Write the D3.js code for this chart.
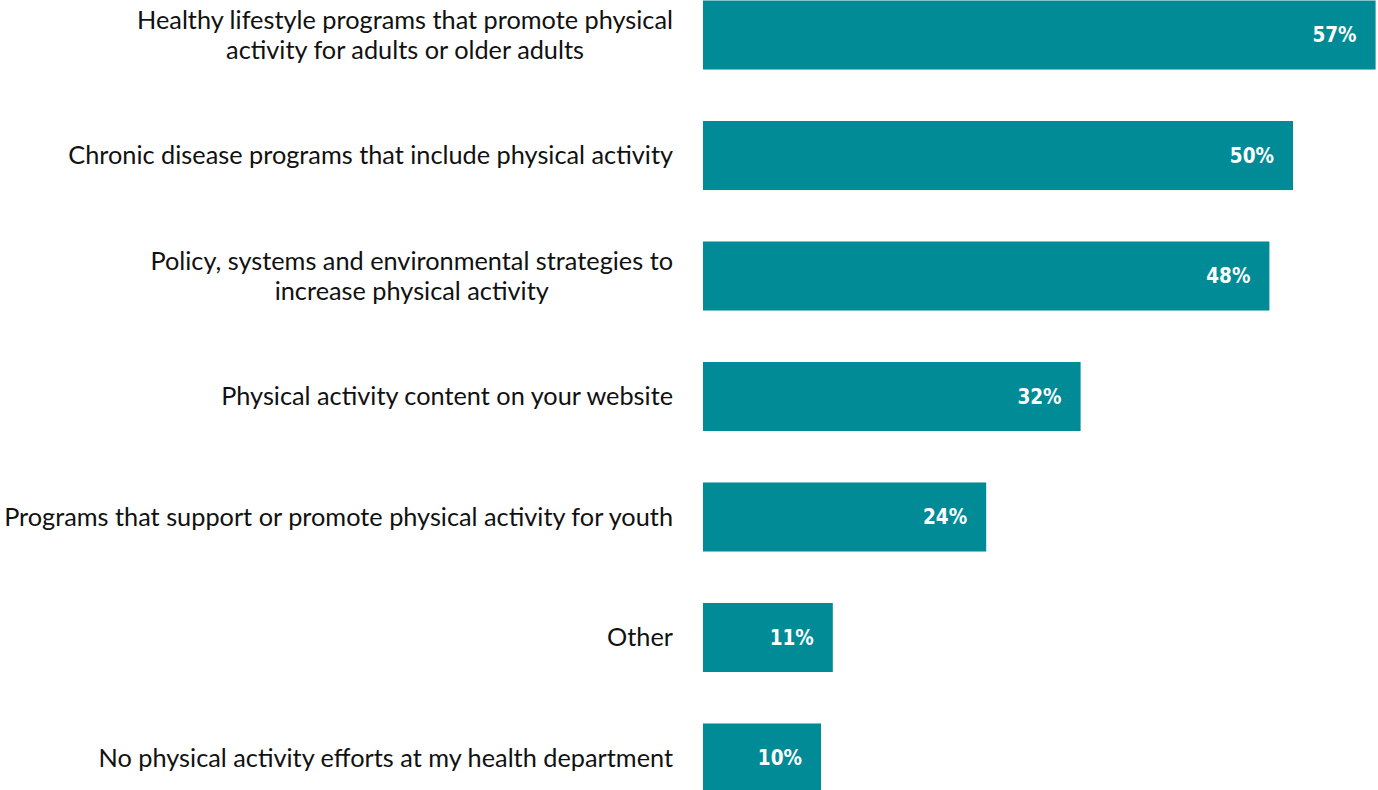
<!DOCTYPE html>
<html>
<head>
<meta charset="utf-8">
<script src="https://cdn.jsdelivr.net/npm/d3@7"></script>
<style>
  html, body { margin: 0; padding: 0; background: #fff; }
  svg { display: block; }
</style>
</head>
<body>
<svg id="chart" width="1378" height="790"></svg>
<script>
// Physical activity efforts reported by health departments
const categories = [
  ["Healthy lifestyle programs that promote physical", "activity for adults or older adults"],
  ["Chronic disease programs that include physical activity"],
  ["Policy, systems and environmental strategies to", "increase physical activity"],
  ["Physical activity content on your website"],
  ["Programs that support or promote physical activity for youth"],
  ["Other"],
  ["No physical activity efforts at my health department"]
];
const values = [57, 50, 48, 32, 24, 11, 10];
const valueLabels = ["57%", "50%", "48%", "32%", "24%", "11%", "10%"];

const W = 1378, H = 790;
const svg = d3.select("#chart");

const keys = categories.map((c, i) => i);
const y = d3.scaleBand()
  .domain(keys)
  .range([0.5, 792.5])
  .paddingInner(0.427)
  .paddingOuter(0);

const x = d3.scaleLinear().domain([0, 60]).range([703, 703 + 708]);

const barColor = "#008b96";

// Bars
svg.append("g").selectAll("rect")
  .data(values)
  .join("rect")
  .attr("x", x(0))
  .attr("y", (d, i) => y(i))
  .attr("width", d => x(d) - x(0))
  .attr("height", y.bandwidth())
  .attr("fill", barColor);

// Value labels inside bar ends
svg.append("g").selectAll("text")
  .data(values)
  .join("text")
  .attr("x", d => x(d) - 19)
  .attr("y", (d, i) => y(i) + y.bandwidth() / 2)
  .attr("dy", "0.36em")
  .attr("text-anchor", "end")
  .attr("fill", "#fff")
  .attr("font-family", "'DejaVu Sans Condensed', 'DejaVu Sans', sans-serif")
  .attr("font-stretch", "condensed")
  .attr("font-weight", "bold")
  .attr("font-size", 20.5)
  .text((d, i) => valueLabels[i]);

// Category labels: each block centred line-by-line, right edge next to the axis
const labelFont = "Lato, 'Noto Sans', sans-serif";
const labelSize = 25.3;
const lineH = 29.5;
const labelRight = 673;
const g = svg.append("g")
  .attr("font-family", labelFont)
  .attr("font-size", labelSize)
  .attr("fill", "#111");

categories.forEach((lines, i) => {
  const cy = y(i) + y.bandwidth() / 2;
  const t = g.append("text").attr("text-anchor", "middle");
  const spans = lines.map((ln, j) => t.append("tspan")
    .attr("y", cy + (j - (lines.length - 1) / 2) * lineH)
    .attr("dy", "0.35em")
    .text(ln));
  const widest = d3.max(spans, s => s.node().getComputedTextLength());
  spans.forEach(s => s.attr("x", labelRight - widest / 2));
});
</script>
</body>
</html>
